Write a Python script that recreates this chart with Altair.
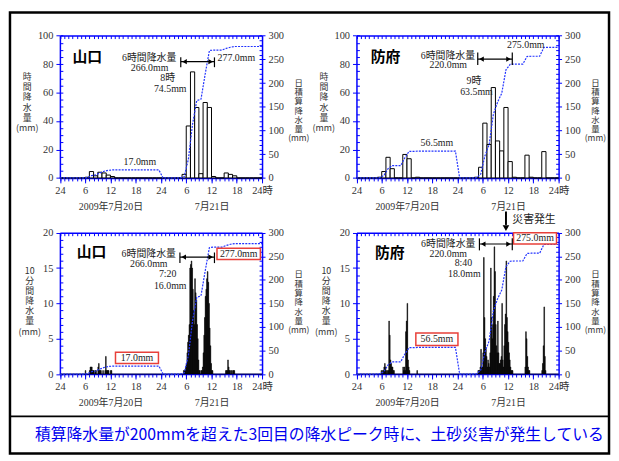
import altair as alt
import pandas as pd

# ---------------- data ----------------
# hourly rainfall (mm) for the hour ending 1..48 h after 2009-07-20 00:00
HOUR_END = list(range(1, 49))
YAMAGUCHI_HOURLY = [
    0, 0, 0, 0, 0, 0, 0.5, 4.5, 1.5, 4.0, 3.5, 2.0,
    1.0, 0, 0, 0, 0, 0, 0, 0, 0, 0, 0, 0,
    0, 0, 0, 0, 0, 2.5, 36.5, 74.5, 49.5, 3.0, 53.0, 49.5,
    1.0, 0, 0, 3.5, 2.5, 1.5, 0, 0, 0, 0, 0, 0,
]
HOFU_HOURLY = [
    0, 0, 0, 0, 0, 0.5, 4.5, 14.5, 6.5, 0, 0, 16.5,
    13.5, 0, 0.5, 0, 0, 0, 0, 0, 0, 0, 0, 0,
    0, 0, 0, 0, 0.5, 7.5, 38.5, 23.5, 63.5, 26.0, 19.0, 49.5,
    11.5, 0.5, 0, 0, 16.0, 0.5, 0, 0, 18.5, 0, 0, 0,
]

# 10-minute rainfall (mm): start hour (after 2009-07-20 00:00) -> six 10-min values
YAMAGUCHI_10MIN = {
    6: [0.5, 0, 0, 0, 0, 0],
    7: [0.5, 1.0, 1.0, 1.0, 0.5, 0.5],
    8: [0.5, 0, 0.5, 0.5, 0, 0],
    9: [1.0, 1.5, 0.5, 0.5, 0.5, 0],
    10: [0, 0.5, 0, 0, 0.5, 2.5],
    11: [0.5, 0.5, 0.5, 0.5, 0, 0],
    12: [0.5, 0.5, 0, 0, 0, 0],
    29: [0, 0, 0.5, 0.5, 0.5, 1.0],
    30: [1.5, 3.0, 4.5, 5.5, 7.0, 15.0],
    31: [15.5, 16.0, 15.0, 12.0, 9.0, 7.0],
    32: [13.5, 11.5, 10.5, 7.0, 5.0, 2.0],
    33: [0.5, 0.5, 0, 0.5, 0.5, 1.0],
    34: [3.0, 5.5, 8.0, 11.0, 12.0, 13.5],
    35: [14.5, 13.0, 10.0, 6.5, 4.0, 1.5],
    36: [0.5, 0.5, 0, 0, 0, 0],
    39: [0, 0, 0.5, 0.5, 0.5, 2.0],
    40: [1.0, 0.5, 0.5, 0, 0.5, 0],
    41: [0.5, 0.5, 0.5, 0, 0, 0],
}
HOFU_10MIN = {
    5: [0, 0, 0, 0, 0, 0.5],
    6: [0, 0.5, 0.5, 1.0, 1.5, 1.0],
    7: [0.5, 0, 0.5, 0.5, 7.5, 5.5],
    8: [2.0, 1.5, 1.0, 1.0, 0.5, 0.5],
    11: [1.0, 0.5, 1.0, 0.5, 6.0, 7.5],
    12: [10.0, 2.0, 1.0, 0.5, 0, 0],
    14: [0, 0, 0.5, 0, 0, 0],
    28: [0, 0, 0, 0, 0, 0.5],
    29: [0.5, 0.5, 1.0, 3.5, 1.0, 1.0],
    30: [3.0, 16.5, 8.0, 5.0, 3.5, 2.5],
    31: [1.0, 2.0, 1.5, 1.0, 3.0, 15.0],
    32: [8.0, 5.0, 7.0, 11.0, 18.0, 14.5],
    33: [7.0, 4.0, 3.0, 7.5, 3.0, 1.5],
    34: [1.5, 2.0, 2.5, 10.0, 2.0, 1.0],
    35: [4.0, 7.0, 8.5, 16.0, 8.0, 6.0],
    36: [4.5, 3.0, 2.0, 1.0, 0.5, 0.5],
    37: [0.5, 0, 0, 0, 0, 0],
    40: [1.0, 6.0, 5.0, 2.5, 1.0, 0.5],
    41: [0.5, 0, 0, 0, 0, 0],
    44: [0.5, 1.5, 4.0, 9.5, 2.5, 0.5],
}

X_TICKS = [0, 6, 12, 18, 24, 30, 36, 42, 48]
X_TICK_LABELS = ["24", "6", "12", "18", "24", "6", "12", "18", "24時"]
DATE_TICKS = [12, 36]
DATE_LABELS = ["2009年7月20日", "7月21日"]
CAPTION = "積算降水量が200mmを超えた3回目の降水ピーク時に、土砂災害が発生している"

# annotations: (text, hour, left-axis value)
TL_TEXT = [("6時間降水量", 21.2, 84.4), ("266.0mm", 21.3, 77.1), ("277.0mm", 41.9, 84.2),
           ("8時", 25.6, 70.1), ("74.5mm", 26.2, 62.5), ("17.0mm", 19.0, 11.0)]
TR_TEXT = [("6時間降水量", 21.7, 85.9), ("220.0mm", 21.8, 79.2), ("275.0mm", 40.2, 93.6),
           ("9時", 27.9, 67.8), ("63.5mm", 28.5, 60.4), ("56.5mm", 19.1, 24.5)]
BL_TEXT = [("6時間降水量", 21.1, 16.95), ("266.0mm", 21.1, 15.6), ("7:20", 25.6, 14.1),
           ("16.0mm", 26.2, 12.5), ("277.0mm", 42.45, 17.0), ("17.0mm", 18.3, 2.3)]
BR_TEXT = [("6時間降水量", 21.8, 18.4), ("220.0mm", 21.8, 17.0), ("8:40", 25.4, 15.7),
           ("18.0mm", 25.6, 14.2), ("275.0mm", 42.4, 19.2), ("56.5mm", 19.1, 4.9)]
# red boxes: hour0, hour1, value0, value1
BL_BOX = [(37.3, 47.6, 16.2, 17.8), (13.2, 23.4, 1.5, 3.1)]
BR_BOX = [(37.3, 47.5, 18.4, 20.0), (14.1, 24.1, 4.05, 5.8)]
# 6-hour arrows: hour0, hour1, value, bar-bottom, bar-top
TL_ARROW = (28.7, 36.7, 81.7, 77.8, 84.7)
TR_ARROW = (28.8, 37.0, 83.5, 79.4, 88.2)
BL_ARROW = (28.5, 36.7, 16.55, 15.7, 17.2)
BR_ARROW = (29.2, 37.0, 18.4, 17.5, 19.2)
DISASTER = dict(hour=35.5, top=23.0, stem=21.1, head=20.65, label="災害発生", lx=37.0, ly=21.8)

# ---------------- style / layout ----------------
BLUE = "#0000ff"
LINE_BLUE = "#2233ff"
TXT = "#222222"
SERIF = "Liberation Serif, Noto Sans CJK JP"
JP = "Noto Sans CJK JP"
RED = "#e8403a"

PAD = 2
W, H = 606, 446
OX = OY = 8 + PAD


def vx(px):
    return px - OX


def vy(py):
    return py - OY


PANELS = [
    dict(name="山口", rain=YAMAGUCHI_HOURLY, ten=None, L=60.5, R=265, T=33.3, B=177.3,
         ymax=100, ymajor=20, yminor=5, name_pos=(6.5, 84.7),
         ltitle=["時", "間", "降", "水", "量", "", "(mm)"], ltx=27, lty=71,
         rtx=301.7, rty=76.5, texts=TL_TEXT, boxes=[], arrow=TL_ARROW),
    dict(name="防府", rain=HOFU_HOURLY, ten=None, L=360.5, R=565, T=33.3, B=177.3,
         ymax=100, ymajor=20, yminor=5, name_pos=(6.9, 85.1),
         ltitle=["時", "間", "降", "水", "量", "", "(mm)"], ltx=327, lty=71,
         rtx=601.7, rty=76.5, texts=TR_TEXT, boxes=[], arrow=TR_ARROW),
    dict(name="山口", rain=YAMAGUCHI_HOURLY, ten=YAMAGUCHI_10MIN, L=60.5, R=265, T=232.7, B=375.7,
         ymax=20, ymajor=5, yminor=1, name_pos=(7.5, 17.2),
         ltitle=["10", "分", "間", "降", "水", "量", "", "(mm)"], ltx=29.5, lty=267,
         rtx=301.7, rty=270.5, texts=BL_TEXT, boxes=BL_BOX, arrow=BL_ARROW),
    dict(name="防府", rain=HOFU_HOURLY, ten=HOFU_10MIN, L=360.5, R=565, T=232.7, B=375.7,
         ymax=20, ymajor=5, yminor=1, name_pos=(7.9, 17.1),
         ltitle=["10", "分", "間", "降", "水", "量", "", "(mm)"], ltx=329.5, lty=267,
         rtx=601.7, rty=270.5, texts=BR_TEXT, boxes=BR_BOX, arrow=BR_ARROW, disaster=DISASTER),
]


def ternary(values, labels):
    expr = "''"
    for v, l in reversed(list(zip(values, labels))):
        expr = f"(datum.value == {v} ? '{l}' : {expr})"
    return expr


X_EXPR = ternary(X_TICKS, X_TICK_LABELS)
DATE_EXPR = ternary(DATE_TICKS, DATE_LABELS)


def ax(**kw):
    base = dict(grid=False, title=None, labelFlush=False, labelOverlap=False)
    base.update(kw)
    return alt.Axis(**base)


LABEL = dict(labelFont=SERIF, labelFontSize=10.5, labelColor="#333333")
TICK = dict(tickColor=BLUE, tickWidth=1)
DOMAIN = dict(domainColor=BLUE, domainWidth=1.5)
LTITLE = dict(titleAngle=0, titleAlign="center", titleBaseline="top", titleFont=JP,
              titleFontSize=9, titleFontWeight="normal", titleColor="#333333", titleLineHeight=10.2)
RTITLE = dict(titleAngle=0, titleAlign="center", titleBaseline="top", titleFont=JP,
              titleFontSize=8.5, titleFontWeight="normal", titleColor="#333333", titleLineHeight=9.4)


def cumulative(hourly):
    pts = [(0.0, 0.0)]
    run = 0.0
    for h, v in zip(HOUR_END, hourly):
        if h == 25:
            run = 0.0
        run += v
        pts.append((h - 0.5, run))
    pts.append((48.0, run))
    return pd.DataFrame(pts, columns=["x", "c"])


def panel_layers(p):
    xs = alt.Scale(domain=[0, 48], range=[vx(p["L"]), vx(p["R"])], nice=False, zero=False)
    yl = alt.Scale(domain=[0, p["ymax"]], range=[vy(p["B"]), vy(p["T"])], nice=False, zero=False)
    yr = alt.Scale(domain=[0, 300], range=[vy(p["B"]), vy(p["T"])], nice=False, zero=False)
    off_b = vy(p["B"]) - H
    off_t = vy(p["T"]) - H

    ax_x_major = ax(orient="bottom", offset=off_b, values=X_TICKS, labelExpr=X_EXPR,
                    tickSize=5, labelPadding=3, **LABEL, **TICK, **DOMAIN)
    ax_x_minor = ax(orient="bottom", offset=off_b, values=list(range(49)), tickSize=3,
                    labels=False, domain=False, **TICK)
    ax_x_date = ax(orient="bottom", offset=off_b, values=DATE_TICKS, labelExpr=DATE_EXPR,
                   ticks=False, tickSize=0, domain=False, labelPadding=24,
                   labelFont=SERIF, labelFontSize=10, labelColor="#333333")
    ax_x_top = ax(orient="bottom", offset=off_t, values=list(range(49)), tickSize=3,
                  labels=False, **TICK, **DOMAIN)
    ax_yl = ax(orient="left", offset=-vx(p["L"]), values=list(range(0, p["ymax"] + 1, p["ymajor"])),
               tickSize=4, labelPadding=3, **LABEL, **TICK, **DOMAIN,
               title=p["ltitle"], titleX=p["ltx"] - p["L"], titleY=vy(p["lty"]), **LTITLE)
    ax_yl_minor = ax(orient="right", offset=vx(p["L"]) - W,
                     values=list(range(0, p["ymax"] + 1, p["yminor"])), tickSize=3,
                     labels=False, domain=False, **TICK)
    ax_yr = ax(orient="right", offset=vx(p["R"]) - W, values=list(range(0, 301, 50)),
               tickSize=3, labelPadding=3, **LABEL, **TICK, **DOMAIN,
               title=["日", "積", "算", "降", "水", "量", "", "(mm)"],
               titleX=p["rtx"] - p["R"], titleY=vy(p["rty"]), **RTITLE)
    ax_yr_minor = ax(orient="left", offset=-vx(p["R"]), values=list(range(0, 301, 10)),
                     tickSize=3, labels=False, domain=False, **TICK)

    layers = []
    # bars
    if p["ten"] is None:
        bars = pd.DataFrame({"x0": [h - 1 for h in HOUR_END], "x1": HOUR_END, "v": p["rain"]})
        mark = alt.Chart(bars).mark_rect(fill="white", stroke="black", strokeWidth=1)
    else:
        rows = []
        for hr in range(48):
            vals = p["ten"].get(hr, [0, 0, 0, 0, 0, 0])
            for i, v in enumerate(vals):
                rows.append({"x0": hr + i / 6, "x1": hr + (i + 1) / 6, "v": v})
        bars = pd.DataFrame(rows)
        mark = alt.Chart(bars).mark_rect(fill="black", stroke="black", strokeWidth=0.5)
    layers.append(mark.encode(
        x=alt.X("x0:Q", scale=xs, axis=ax_x_major), x2=alt.X2("x1"),
        y=alt.Y("v:Q", scale=yl, axis=ax_yl), y2=alt.datum(0)))
    # cumulative line
    layers.append(alt.Chart(cumulative(p["rain"])).mark_line(
        color=LINE_BLUE, strokeDash=[2, 1.2], strokeWidth=1.2).encode(
        x=alt.X("x:Q", scale=xs, axis=ax_x_minor), y=alt.Y("c:Q", scale=yr, axis=ax_yr)))
    dummy = pd.DataFrame({"x": [0], "y": [0]})
    layers.append(alt.Chart(dummy).mark_point(opacity=0).encode(
        x=alt.X("x:Q", scale=xs, axis=ax_x_date), y=alt.Y("y:Q", scale=yl, axis=ax_yl_minor)))
    layers.append(alt.Chart(dummy).mark_point(opacity=0).encode(
        x=alt.X("x:Q", scale=xs, axis=ax_x_top), y=alt.Y("y:Q", scale=yr, axis=ax_yr_minor)))

    X = lambda f: alt.X(f, scale=xs, axis=None)
    Y = lambda f: alt.Y(f, scale=yl, axis=None)

    if p["boxes"]:
        bdf = pd.DataFrame(p["boxes"], columns=["x0", "x1", "y0", "y1"])
        layers.append(alt.Chart(bdf).mark_rect(fill="white", stroke=RED, strokeWidth=1.5).encode(
            x=X("x0:Q"), x2=alt.X2("x1"), y=Y("y0:Q"), y2=alt.Y2("y1")))

    tdf = pd.DataFrame(p["texts"], columns=["t", "x", "y"])
    layers.append(alt.Chart(tdf).mark_text(font=SERIF, fontSize=10, color=TXT).encode(
        x=X("x:Q"), y=Y("y:Q"), text="t:N"))
    ndf = pd.DataFrame([{"t": p["name"], "x": p["name_pos"][0], "y": p["name_pos"][1]}])
    layers.append(alt.Chart(ndf).mark_text(font=JP, fontSize=15, fontWeight="bold", color="black").encode(
        x=X("x:Q"), y=Y("y:Q"), text="t:N"))

    a0, a1, ay, yb0, yb1 = p["arrow"]
    bars_df = pd.DataFrame({"x": [a0, a1], "y0": [yb0, yb0], "y1": [yb1, yb1]})
    layers.append(alt.Chart(bars_df).mark_rule(color="black", strokeWidth=1.2).encode(
        x=X("x:Q"), y=Y("y0:Q"), y2=alt.Y2("y1")))
    hdf = pd.DataFrame({"x0": [a0], "x1": [a1], "y": [ay]})
    layers.append(alt.Chart(hdf).mark_rule(color="black", strokeWidth=1.2).encode(
        x=X("x0:Q"), x2=alt.X2("x1"), y=Y("y:Q")))
    heads = pd.DataFrame({"x": [a0 + 0.9, a1 - 0.9], "y": [ay, ay], "s": ["triangle-left", "triangle-right"]})
    layers.append(alt.Chart(heads).mark_point(filled=True, color="black", size=28, opacity=1).encode(
        x=X("x:Q"), y=Y("y:Q"), shape=alt.Shape("s:N", scale=None)))

    if "disaster" in p:
        d = p["disaster"]
        sdf = pd.DataFrame({"x": [d["hour"]], "y0": [d["top"]], "y1": [d["stem"]]})
        layers.append(alt.Chart(sdf).mark_rule(color="black", strokeWidth=2).encode(
            x=X("x:Q"), y=Y("y0:Q"), y2=alt.Y2("y1")))
        tri = pd.DataFrame({"x": [d["hour"]], "y": [d["head"]]})
        layers.append(alt.Chart(tri).mark_point(filled=True, color="black", size=45, opacity=1,
                                                shape="triangle-down").encode(x=X("x:Q"), y=Y("y:Q")))
        ldf = pd.DataFrame({"t": [d["label"]], "x": [d["lx"]], "y": [d["ly"]]})
        layers.append(alt.Chart(ldf).mark_text(font=JP, fontSize=11, color=TXT, align="left").encode(
            x=X("x:Q"), y=Y("y:Q"), text="t:N"))
    return layers


all_layers = []
for p in PANELS:
    all_layers.extend(panel_layers(p))

# separator line above caption (drawn as an axis domain)
sep_scale = alt.Scale(domain=[0, 1], range=[0, W], nice=False, zero=False)
all_layers.append(alt.Chart(pd.DataFrame({"x": [0.5], "y": [0]})).mark_point(opacity=0).encode(
    x=alt.X("x:Q", scale=sep_scale,
            axis=ax(orient="bottom", offset=vy(418) - H, labels=False, ticks=False,
                    domainColor="black", domainWidth=2)),
    y=alt.Y("y:Q", axis=None)))

chart = alt.layer(*all_layers).resolve_scale(
    x="independent", y="independent").resolve_axis(
    x="independent", y="independent").properties(
    width=W, height=H, padding=PAD,
    autosize=alt.AutoSizeParams(type="none"),
    title=alt.TitleParams(text=CAPTION, orient="bottom", anchor="middle", offset=-27, dx=10,
                          font=JP, fontSize=16, fontWeight="normal", color="#0000ee"),
).configure_view(stroke="black", strokeWidth=2.5)

chart.save("out.html", embed_options={"renderer": "svg", "actions": False})
